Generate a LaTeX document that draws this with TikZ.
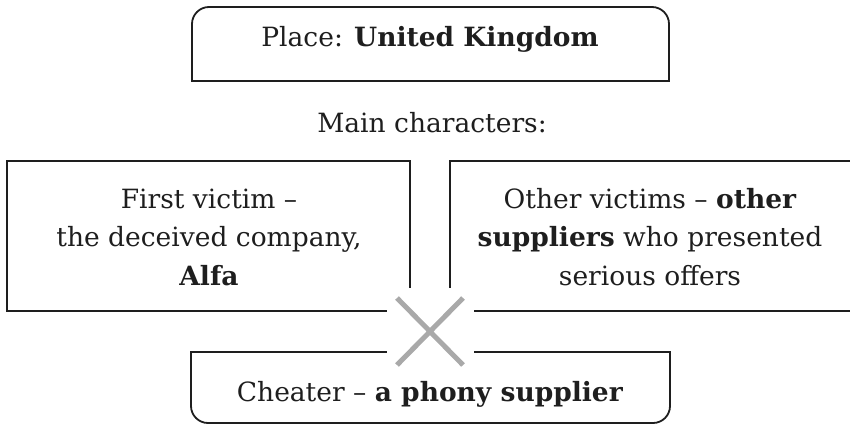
\documentclass[tikz,border=0pt]{standalone}
\usepackage{fontspec}
\setmainfont{DejaVu Serif}
\definecolor{ink}{HTML}{1E1E1E}
\definecolor{crossgrey}{HTML}{A9A9A9}
\begin{document}
\begin{tikzpicture}[x=1pt,y=-1pt,
  frame/.style={draw=ink,line width=1.8pt,line cap=rect},
  roundframe/.style={frame,rounded corners=17pt},
  label/.style={text=ink,font=\fontsize{26.5}{38.5}\selectfont,inner sep=0pt},
  multilabel/.style={label,align=center},
  cross/.style={draw=crossgrey,line width=5pt}]
\useasboundingbox (0,0) rectangle (850,425);
% top box
\draw[roundframe] (192,81) -- (192,7) -- (669,7) -- (669,81);
\draw[frame] (192,81) -- (669,81);
\node[label,anchor=base] (place) at (430,47) {Place: \textbf{United Kingdom}};
% heading
\node[label,anchor=base] (main) at (432,132) {Main characters:};
% left box
\draw[frame] (386,311) -- (7,311) -- (7,161) -- (410,161) -- (410,287);
\node[multilabel] (first) at (209,237) {First victim –\\the deceived company,\\\textbf{Alfa}};
% right box
\draw[frame] (450,287) -- (450,161) -- (852,161);
\draw[frame] (475,311) -- (852,311);
\node[multilabel] (other) at (650,237) {Other victims – \textbf{other}\\\textbf{suppliers} who presented\\serious offers};
% bottom box
\draw[frame] (386,352) -- (191,352);
\draw[roundframe] (191,352) -- (191,423) -- (670,423) -- (670,352);
\draw[frame] (670,352) -- (475,352);
\node[label,anchor=base] (cheater) at (430,401.5) {Cheater – \textbf{a phony supplier}};
% cross
\coordinate (c1) at (397,298);
\coordinate (c2) at (463,365);
\coordinate (c3) at (463,298);
\coordinate (c4) at (397,365);
\draw[cross] (c1) -- (c2);
\draw[cross] (c3) -- (c4);
\end{tikzpicture}
\end{document}
